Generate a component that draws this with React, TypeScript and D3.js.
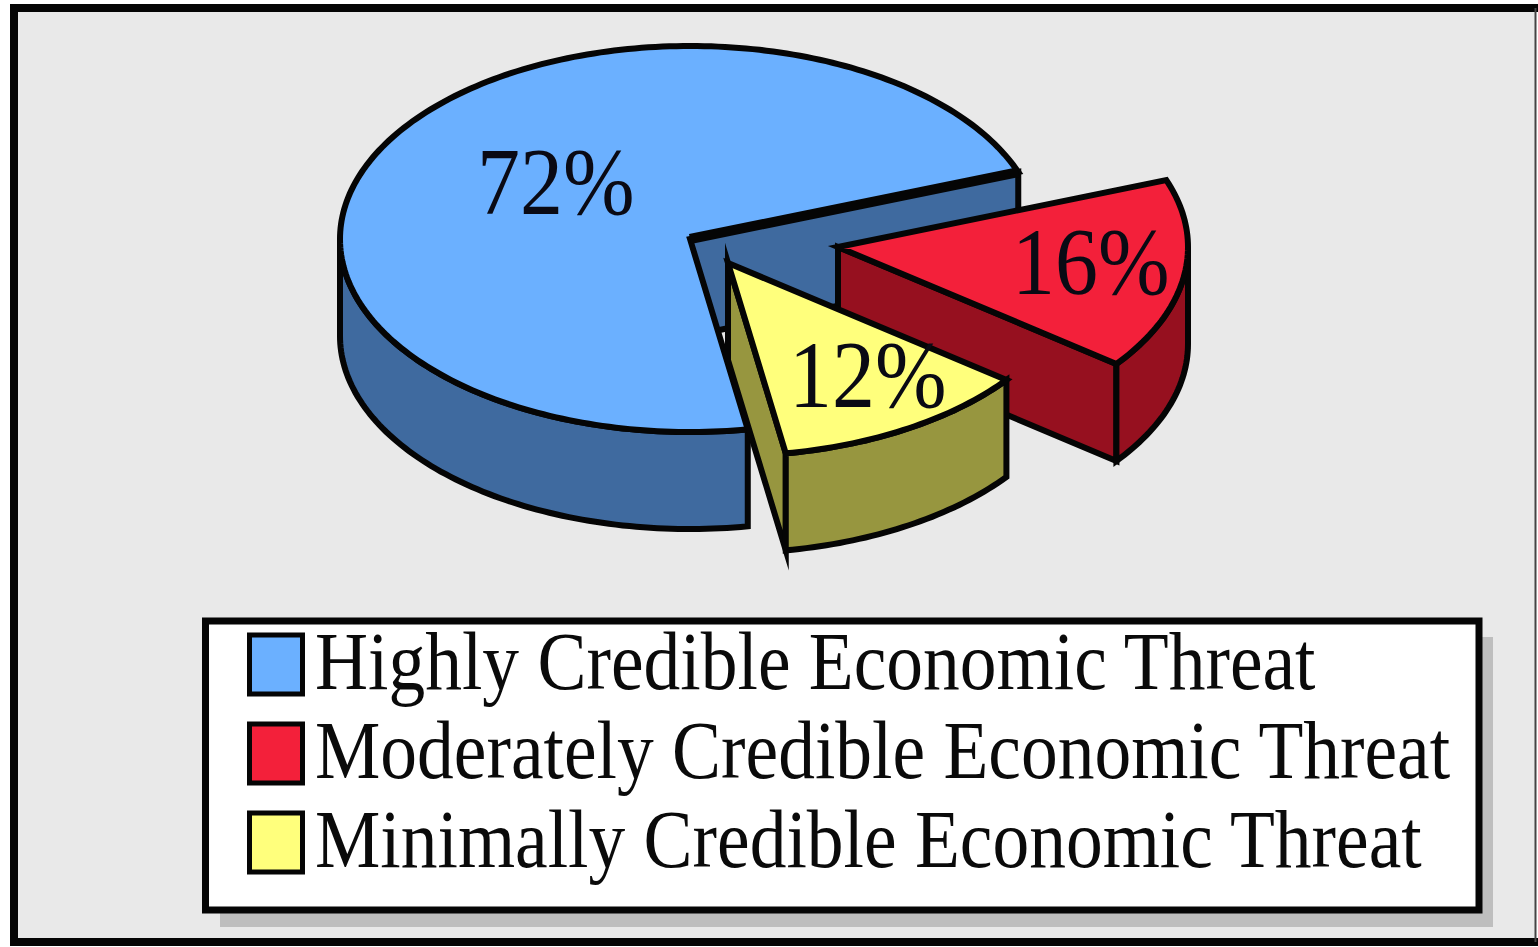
import React from "react";
import * as d3 from "d3";

// Survey shares shown on the pie.
const categories = [
  "Highly Credible Economic Threat",
  "Moderately Credible Economic Threat",
  "Minimally Credible Economic Threat",
];
const shares = [72, 16, 12];
const topColors = ["#6BB0FF", "#F3203A", "#FFFF7C"];
const wallColors = ["#3F6A9F", "#96101F", "#97963F"];

// Pie projection: an ellipse with an extruded rim.
const CX = 690;
const CY = 239;
const RX = 350;
const RY = 193;
const DEPTH = 97;
const START = (170.5 * Math.PI) / 180;
const HALF = Math.PI / 2;
const TAU = Math.PI * 2;
const explode = [
  { dx: 0, dy: 0 },
  { dx: 148, dy: 8 },
  { dx: 38, dy: 24 },
];
const labelSpots = [
  { x: 477, y: 190 },
  { x: 1012, y: 270 },
  { x: 789, y: 383 },
];

const STROKE = "#050505";
const SW = 6;
const W = 1538;
const H = 947;

const xScale = d3.scaleLinear().domain([-1, 1]).range([-RX, RX]);
const yScale = d3.scaleLinear().domain([-1, 1]).range([RY, -RY]);

type Pt = [number, number];

const rim = (a: number, cx: number, cy: number, z = 0): Pt => [
  cx + xScale(Math.sin(a)),
  cy + yScale(Math.cos(a)) + z,
];

const arcPts = (a0: number, a1: number, cx: number, cy: number, z = 0): Pt[] => {
  const n = Math.max(2, Math.ceil(Math.abs(a1 - a0) / 0.02));
  return d3.range(n + 1).map((i) => rim(a0 + ((a1 - a0) * i) / n, cx, cy, z));
};

const line = d3.line<Pt>();
const closed = (pts: Pt[]) => `${line(pts)}Z`;

const slices = d3
  .pie<number>()
  .sort(null)
  .startAngle(START)
  .endAngle(START + TAU)(shares);

function Slice({ index }: { index: number }) {
  const s = slices[index];
  const cx = CX + explode[index].dx;
  const cy = CY + explode[index].dy;
  // Angles past a full turn are folded back so the front-rim test below holds.
  const wrap = s.startAngle >= TAU ? TAU : 0;
  const a0 = s.startAngle - wrap;
  const a1 = s.endAngle - wrap;
  const apex: Pt = [cx, cy];
  const wall = wallColors[index];

  // Radial face on the clockwise end of the slice, then the visible front of the rim.
  const endFace = closed([apex, rim(a1, cx, cy), rim(a1, cx, cy, DEPTH), [cx, cy + DEPTH]]);
  const frontStart = Math.max(a0, HALF);
  const frontEnd = Math.min(a1, 3 * HALF);
  const front = closed([
    ...arcPts(frontStart, frontEnd, cx, cy),
    ...arcPts(frontEnd, frontStart, cx, cy, DEPTH),
  ]);
  const top = closed([apex, ...arcPts(a0, a1, cx, cy)]);
  const common = { stroke: STROKE, strokeWidth: SW, strokeLinejoin: "miter" as const, strokeMiterlimit: 12 };

  return (
    <g>
      <path d={endFace} fill={wall} {...common} />
      <path d={front} fill={wall} {...common} />
      <path d={top} fill={topColors[index]} {...common} />
      {index === 0 && <path d={line([apex, rim(a1, cx, cy)]) as string} fill="none" stroke={STROKE} strokeWidth={10} />}
    </g>
  );
}

const serif = "'Liberation Serif', 'Times New Roman', serif";
const legendRows = d3.scalePoint<string>().domain(categories).range([665, 843]);

export default function App() {
  return (
    <svg
      width={W}
      height={H}
      viewBox={`0 0 ${W} ${H}`}
      style={{ position: "fixed", left: 0, top: 0, display: "block", background: "#fff" }}
    >
      <rect x={14} y={8} width={1522} height={934} fill="#E9E9E9" />
      <path d="M1538 8H14V942H1538" fill="none" stroke={STROKE} strokeWidth={8} />
      <line x1={1535.5} x2={1535.5} y1={8} y2={942} stroke="#444" strokeWidth={2} />

      {/* Slices are painted back to front. */}
      {slices.map((_, i) => (
        <Slice key={i} index={i} />
      ))}

      {shares.map((v, i) => (
        <text
          key={i}
          transform={`translate(${labelSpots[i].x},${labelSpots[i].y}) scale(1,1.12)`}
          dy="0.25em"
          fontFamily={serif}
          fontSize={86}
          fill="#0A0A14"
        >
          {v}%
        </text>
      ))}

      {/* Legend box with its drop shadow. */}
      <rect x={220} y={637} width={1273} height={290} fill="#BEBEBE" />
      <rect x={205.5} y={621} width={1273.5} height={289} fill="#fff" stroke={STROKE} strokeWidth={7} />
      {categories.map((c, i) => {
        const y = legendRows(c) as number;
        return (
          <g key={c}>
            <rect x={249.5} y={y - 30} width={53} height={59} fill={topColors[i]} stroke={STROKE} strokeWidth={5} />
            <text
              transform={`translate(315,${y + 24}) scale(1,1.11)`}
              fontFamily={serif}
              fontSize={73.5}
              fill="#0A0A0A"
            >
              {c}
            </text>
          </g>
        );
      })}
    </svg>
  );
}
